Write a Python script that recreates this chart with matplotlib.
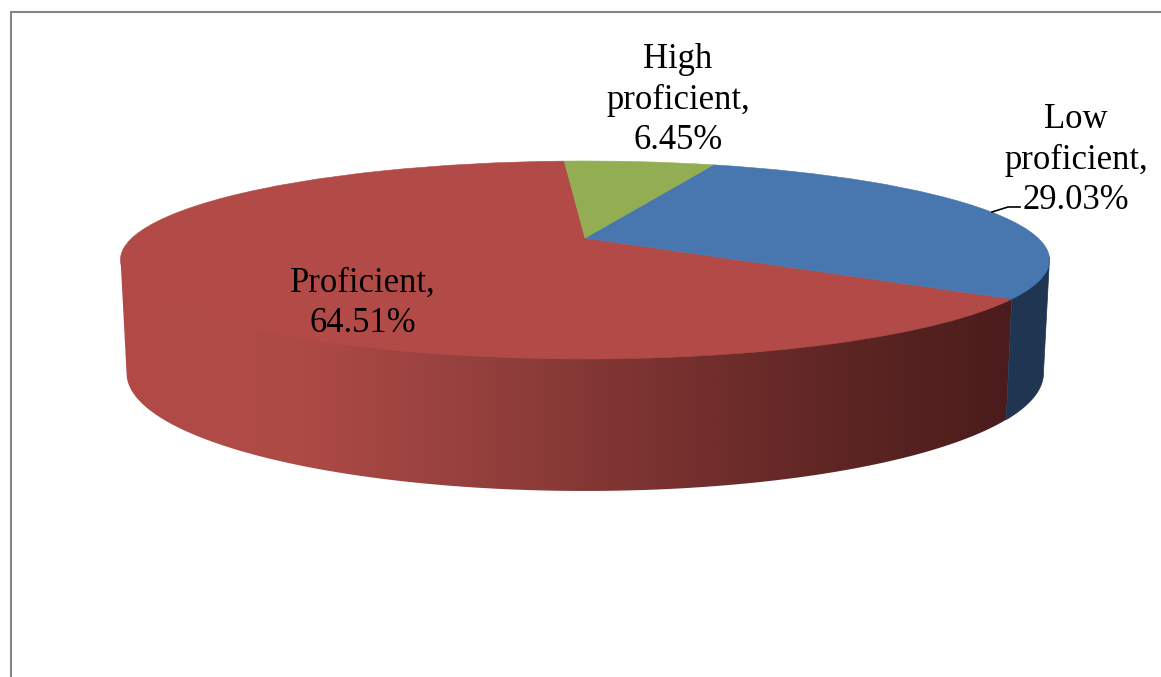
import numpy as np
import matplotlib
matplotlib.use("Agg")
import matplotlib.pyplot as plt
from matplotlib.colors import LinearSegmentedColormap
from matplotlib.patches import Polygon
from matplotlib.transforms import Transform

levels = ["Proficient", "Low\nproficient", "High\nproficient"]
shares = [64.51, 29.03, 6.45]
top_colors = ["#B24B48", "#4876AE", "#93AE52"]
side_low = "#1F3551"
side_proficient = ["#B24B48", "#AE4A46", "#8E3D3A", "#7A3230", "#5E2624", "#4A1C1B"]
side_stops = [0.0, 0.2, 0.45, 0.6, 0.8, 1.0]

TILT = 0.222
TOP_FACE = (585, 238, 453, 94.1)
BOTTOM_FACE = (585, 347, 447, 112)


class DiscProjection(Transform):
    # unit circle coords -> pixel coords, with a bit of perspective
    input_dims = 2
    output_dims = 2

    def __init__(self, face):
        super().__init__()
        self.face = face

    def transform_non_affine(self, values):
        cx, cy, a, b = self.face
        u, v = values[:, 0], values[:, 1]
        d = 1 + TILT * v
        return np.column_stack([cx + a * u / d, cy - b * v / d])


def rim_outline(t1, t2):
    t = np.radians(np.linspace(t1, t2, 120))
    pts = np.column_stack([np.cos(t), np.sin(t)])
    upper = DiscProjection(TOP_FACE).transform_non_affine(pts)
    lower = DiscProjection(BOTTOM_FACE).transform_non_affine(pts)
    # tuck the upper edge under the top face so no seam shows
    upper[:, 1] -= 3
    return np.vstack([upper, lower[::-1]])


fig = plt.figure(figsize=(11.61, 6.77), dpi=100)
ax = fig.add_axes([0, 0, 1, 1])

wedges, _ = ax.pie(shares, colors=top_colors, startangle=93.2, counterclock=True)
ax.set_aspect("auto")
ax.axis("off")

for w, c in zip(wedges, top_colors):
    w.set_transform(DiscProjection(TOP_FACE) + ax.transData)
    w.set_edgecolor(c)
    w.set_linewidth(0.4)
    w.set_zorder(3)

# side wall: the limb of the disc sits at v = -TILT
limb = np.degrees(np.arcsin(TILT))
split = wedges[0].theta2

cmap = LinearSegmentedColormap.from_list("wall", list(zip(side_stops, side_proficient)))
wall = np.linspace(0, 1, 512).reshape(1, -1)
im = ax.imshow(wall, cmap=cmap, extent=(121, 1013, 500, 250), aspect="auto", zorder=1)
im.set_clip_path(Polygon(rim_outline(180 + limb, split), closed=True, transform=ax.transData))

ax.add_patch(Polygon(rim_outline(split, 360 - limb), closed=True, facecolor=side_low,
                     edgecolor=side_low, linewidth=0.5, zorder=1))

ax.set_xlim(0, 1161)
ax.set_ylim(677, 0)

# chart area border, runs off the right and bottom
ax.plot([10.5, 10.5, 1161], [677, 11.5, 11.5], color="#868686", lw=1.5, zorder=2,
        solid_joinstyle="miter", clip_on=False)

# leader line for the low proficient label
ax.plot([992, 1008, 1020], [212, 207, 207], color="black", lw=1.2, zorder=4)

label_font = {"family": ["Liberation Serif", "DejaVu Serif"], "size": 24.9, "color": "black",
              "ha": "center", "va": "center", "linespacing": 1.28, "zorder": 5}
label_pos = [(362.5, 303), (1076, 160), (678, 100)]
for name, share, (x, y) in zip(levels, shares, label_pos):
    ax.text(x, y, f"{name},\n{share:.2f}%", **label_font)

fig.savefig("out.png", dpi=100)
